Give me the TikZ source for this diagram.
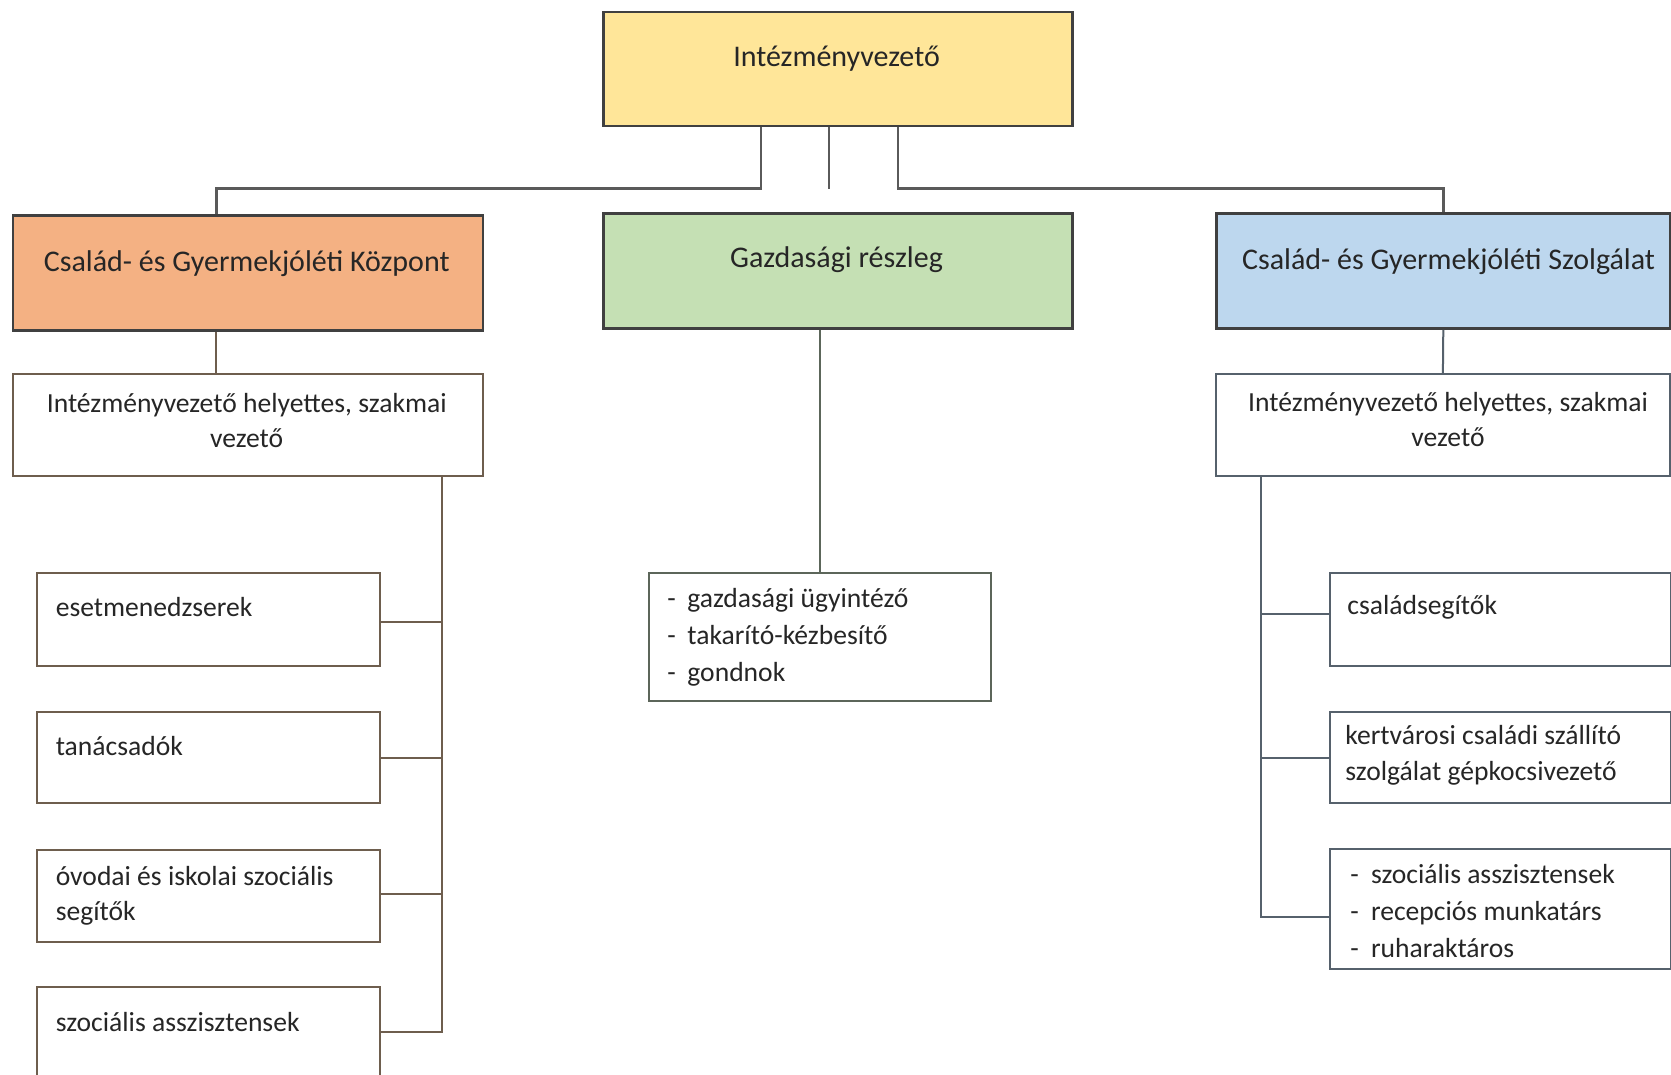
\documentclass[tikz,border=0pt]{standalone}
\usepackage{fontspec}
\setmainfont{Carlito}
\definecolor{cyellow}{HTML}{FFE699}
\definecolor{corange}{HTML}{F4B183}
\definecolor{cgreen}{HTML}{C5E0B4}
\definecolor{cblue}{HTML}{BDD7EE}
\definecolor{ctext}{HTML}{262626}
\definecolor{ctop}{HTML}{404040}
\definecolor{clink}{HTML}{5A5A5A}
\definecolor{cleft}{HTML}{6E5E4E}
\definecolor{cmid}{HTML}{5C665A}
\definecolor{cright}{HTML}{56616C}
\begin{document}
\begin{tikzpicture}[x=0.5pt,y=-0.5pt,
  topbox/.style={draw=ctop,line width=1.3pt,anchor=north west,inner sep=0pt},
  subbox/.style={draw=#1,line width=0.9pt,fill=white,anchor=north west,inner sep=0pt},
  toptext/.style={text=ctext,inner sep=0pt,font=\fontsize{15}{18}\selectfont},
  subtext/.style={text=ctext,inner sep=0pt,font=\fontsize{13.8}{17.6}\selectfont},
  listtext/.style={text=ctext,inner sep=0pt,align=left,anchor=west,font=\fontsize{13.8}{18.4}\selectfont},
  toplink/.style={draw=clink,line width=1.2pt},
  link/.style={draw=#1,line width=1pt}
]
\useasboundingbox (0,0) rectangle (1671,1075);
\clip (0,0) rectangle (1671,1075);
\fill[white] (0,0) rectangle (1671,1075);

% top level
\node[topbox,fill=cyellow,minimum width=234.5pt,minimum height=57pt] (top) at (602,10.7) {};
\node[toptext] (topT) at (836.5,58.5) {Intézményvezető};

% second level
\node[topbox,fill=corange,minimum width=235pt,minimum height=57.5pt] (lbox) at (11.7,214.2) {};
\node[toptext] (lboxT) at (246.7,264) {Család- és Gyermekjóléti Központ};
\node[topbox,fill=cgreen,minimum width=234.5pt,minimum height=57.6pt] (mbox) at (602,212) {};
\node[toptext] (mboxT) at (836.5,260) {Gazdasági részleg};
\node[topbox,fill=cblue,minimum width=227pt,minimum height=57.6pt] (rbox) at (1215,212) {};
\node[toptext] (rboxT) at (1448.5,262) {Család- és Gyermekjóléti Szolgálat};

% connectors from top
\coordinate (j1) at (761,188.6);
\coordinate (j2) at (829,188.6);
\coordinate (j3) at (898,188.6);
\coordinate (lx) at (216.3,188.6);
\draw[toplink] (top.south -| j1) -- (j1) -- (lx) -- (lx |- lbox.north);
\draw[toplink] (top.south -| j2) -- (j2);
\draw[toplink] (top.south -| j3) -- (j3) -| (rbox.north);

% left subtree
\node[subbox=cleft,minimum width=235pt,minimum height=51.2pt] (lsub) at (11.7,373) {};
\node[subtext,align=center] (lsubT) at (246.7,420.4) {Intézményvezető helyettes, szakmai\\vezető};
\draw[link=cleft] (lbox.south -| lx) -- (lsub.north -| lx);

\node[subbox=cleft,minimum width=171.6pt,minimum height=46.3pt] (lc1) at (36.2,572.3) {};
\node[subtext,anchor=west] (lc1T) at (55.4,607.4) {esetmenedzserek};
\node[subbox=cleft,minimum width=171.6pt,minimum height=45.8pt] (lc2) at (36.2,710.8) {};
\node[subtext,anchor=west] (lc2T) at (55.4,746) {tanácsadók};
\node[subbox=cleft,minimum width=171.6pt,minimum height=45.8pt] (lc3) at (36.2,849.4) {};
\node[subtext,anchor=west,align=left] (lc3T) at (55.4,895.6) {óvodai és iskolai szociális\\segítők};
\node[subbox=cleft,minimum width=171.6pt,minimum height=47pt] (lc4) at (36.2,985.8) {};
\node[subtext,anchor=west] (lc4T) at (55.4,1022) {szociális asszisztensek};

\coordinate (lb1) at (442.3,622.4);
\coordinate (lb2) at (442.3,757.7);
\coordinate (lb3) at (442.3,894.1);
\coordinate (lb4) at (442.3,1031.6);
\draw[link=cleft] (lsub.south -| lb1) -- (lb4) -- (lb4 -| lc4.east);
\draw[link=cleft] (lb1) -- (lb1 -| lc1.east);
\draw[link=cleft] (lb2) -- (lb2 -| lc2.east);
\draw[link=cleft] (lb3) -- (lb3 -| lc3.east);

% middle subtree
\node[subbox=cmid,minimum width=171pt,minimum height=64pt] (mc) at (648,572.3) {};
\node[listtext] (mcT) at (667,637.2) {\makebox[10pt][l]{-}gazdasági ügyintéző\\\makebox[10pt][l]{-}takarító-kézbesítő\\\makebox[10pt][l]{-}gondnok};
\draw[link=cmid] (mc.north) -- (mc.north |- mbox.south);

% right subtree
\node[subbox=cright,minimum width=227pt,minimum height=51.2pt] (rsub) at (1215,373) {};
\node[subtext,align=center] (rsubT) at (1448,419.3) {Intézményvezető helyettes, szakmai\\vezető};
\draw[link=cright] (rbox.south) -- (rsub.north);

\node[subbox=cright,minimum width=170.25pt,minimum height=46.3pt] (rc1) at (1329,572.3) {};
\node[subtext,anchor=west] (rc1T) at (1347,607.4) {családsegítők};
\node[subbox=cright,minimum width=170.25pt,minimum height=45.8pt] (rc2) at (1329,710.8) {};
\node[subtext,anchor=west,align=left,font=\fontsize{13.8}{18.1}\selectfont] (rc2T) at (1345,755.5) {kertvárosi családi szállító\\szolgálat gépkocsivezető};
\node[subbox=cright,minimum width=170.25pt,minimum height=59.7pt] (rc3) at (1329,848.3) {};
\node[listtext] (rc3T) at (1350,911) {\makebox[10.3pt][l]{-}szociális asszisztensek\\\makebox[10.3pt][l]{-}recepciós munkatárs\\\makebox[10.3pt][l]{-}ruharaktáros};

\coordinate (rb1) at (1260.7,613.8);
\coordinate (rb2) at (1260.7,757.7);
\coordinate (rb3) at (1260.7,916.5);
\draw[link=cright] (rsub.south -| rb1) -- (rb3) -- (rb3 -| rc3.west);
\draw[link=cright] (rb1) -- (rb1 -| rc1.west);
\draw[link=cright] (rb2) -- (rb2 -| rc2.west);
\end{tikzpicture}
\end{document}
